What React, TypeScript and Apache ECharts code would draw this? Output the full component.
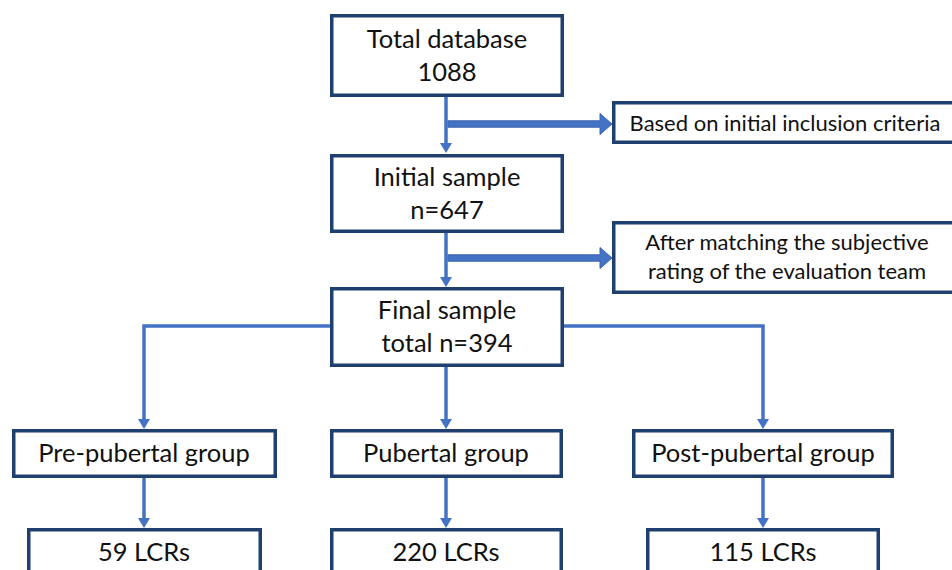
import React, { useEffect, useRef } from "react";
import * as echarts from "echarts";

const stageTitles = ["Total database", "Initial sample", "Final sample"];
const stageCounts = ["1088", "n=647", "total n=394"];
const exclusionNotes = [
  "Based on initial inclusion criteria",
  "After matching the subjective\nrating of the evaluation team",
];
const groupNames = ["Pre-pubertal group", "Pubertal group", "Post-pubertal group"];
const groupCounts = [59, 220, 115];

const BORDER = "#1f3f6e";
const ARROW = "#4472c4";
const TEXT = "#111111";
const FONT_FAMILY = "Lato, 'Noto Sans', sans-serif";

export default function App() {
  const ref = useRef<HTMLDivElement>(null);

  useEffect(() => {
    if (!ref.current) return;
    const chart = echarts.init(ref.current, undefined, { renderer: "svg" });
    const els: any[] = [];

    const box = (x: number, y: number, w: number, h: number) => {
      els.push({
        type: "rect",
        shape: { x: x + 1.75, y: y + 1.75, width: w - 3.5, height: h - 3.5 },
        style: { fill: "#ffffff", stroke: BORDER, lineWidth: 3.5 },
      });
    };
    const label = (text: string, x: number, y: number, size: number, lh?: number) => {
      els.push({
        type: "text",
        x,
        y: y - 1.5,
        style: {
          text,
          fill: TEXT,
          fontSize: size,
          fontFamily: FONT_FAMILY,
          align: "center",
          verticalAlign: "middle",
          lineHeight: lh || size * 1.3,
        },
      });
    };
    const vArrow = (x: number, y1: number, y2: number) => {
      els.push({
        type: "line",
        shape: { x1: x, y1, x2: x, y2: y2 - 8 },
        style: { stroke: ARROW, lineWidth: 3.5 },
      });
      els.push({
        type: "polygon",
        shape: { points: [[x - 6, y2 - 10], [x + 6, y2 - 10], [x, y2]] },
        style: { fill: ARROW },
      });
    };
    const branch = (x1: number, y: number, x2: number, y2: number) => {
      els.push({
        type: "polyline",
        shape: { points: [[x1, y], [x2, y], [x2, y2 - 8]] },
        style: { stroke: ARROW, lineWidth: 3.5, fill: null },
      });
      els.push({
        type: "polygon",
        shape: { points: [[x2 - 6, y2 - 10], [x2 + 6, y2 - 10], [x2, y2]] },
        style: { fill: ARROW },
      });
    };
    const thickArrow = (x1: number, x2: number, y: number) => {
      els.push({
        type: "polygon",
        shape: {
          points: [
            [x1, y - 3.2],
            [x2 - 12, y - 3.2],
            [x2 - 12, y - 10.5],
            [x2, y],
            [x2 - 12, y + 10.5],
            [x2 - 12, y + 3.2],
            [x1, y + 3.2],
          ],
        },
        style: { fill: ARROW, stroke: "#3a64b0", lineWidth: 1 },
      });
    };

    // main stage boxes
    const stageBoxes = [
      [330, 14, 234, 83],
      [330, 154, 234, 79],
      [330, 287, 234, 80],
    ];
    stageBoxes.forEach((b, i) => {
      box(b[0], b[1], b[2], b[3]);
      const cy = b[1] + b[3] / 2;
      label(stageTitles[i] + "\n" + stageCounts[i], 447, cy, 25.5, 33);
    });

    // exclusion arrows + notes
    vArrow(446, 97, 153);
    vArrow(446, 233, 287);
    thickArrow(448, 612, 124);
    thickArrow(448, 612, 258);
    box(612, 101, 360, 43);
    box(612, 221, 360, 73);
    label(exclusionNotes[0], 785, 124, 22);
    label(exclusionNotes[1], 787, 257, 22, 29);

    // branches to groups
    branch(330, 326, 144, 429);
    branch(564, 326, 763, 429);
    vArrow(446, 367, 429);

    const groupBoxes = [
      [12, 429, 265, 49],
      [330, 429, 233, 49],
      [632, 429, 262, 49],
    ];
    const centers = [144, 446, 763];
    groupBoxes.forEach((b, i) => {
      box(b[0], b[1], b[2], b[3]);
      label(groupNames[i], centers[i], 453, 25.5);
      vArrow(centers[i], 478, 528);
    });

    const lcrBoxes = [
      [27, 528, 235, 80],
      [330, 528, 233, 80],
      [646, 528, 234, 80],
    ];
    lcrBoxes.forEach((b, i) => {
      box(b[0], b[1], b[2], b[3]);
      label(groupCounts[i] + " LCRs", centers[i], 552, 25.5);
    });

    chart.setOption({
      animation: false,
      backgroundColor: "#ffffff",
      graphic: { elements: els },
    });
    return () => chart.dispose();
  }, []);

  return (
    <div
      ref={ref}
      style={{ position: "fixed", left: 0, top: 0, width: 952, height: 570 }}
    />
  );
}
